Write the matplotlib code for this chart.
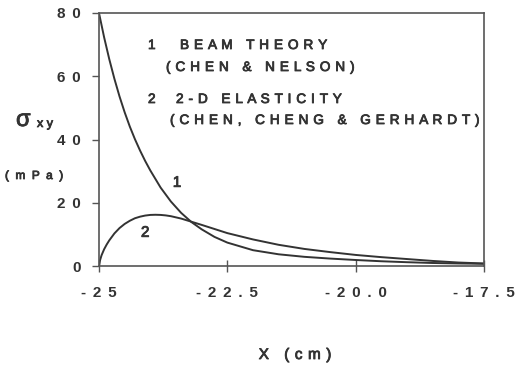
import matplotlib
matplotlib.use("Agg")
import matplotlib.pyplot as plt
import matplotlib.patheffects as pe

plt.rcParams['font.family'] = ['Liberation Sans', 'DejaVu Sans']

# curve 1: beam theory (Chen & Nelson)
x1 = [-25.0, -24.9, -24.8, -24.7, -24.6, -24.5, -24.4, -24.3, -24.2, -24.1,
      -24.0, -23.8, -23.6, -23.4, -23.2, -23.0, -22.75, -22.5, -22.0, -21.5,
      -21.0, -20.5, -20.0, -19.5, -19.0, -18.5, -18.0, -17.5]
y1 = [80.0, 72.3, 65.4, 59.2, 53.6, 48.6, 44.1, 40.1, 36.5, 33.2,
      30.2, 24.8, 20.4, 16.8, 13.9, 11.6, 9.2, 7.4, 5.0, 3.7,
      2.9, 2.35, 1.9, 1.5, 1.2, 0.95, 0.8, 0.7]

# curve 2: 2-D elasticity (Chen, Cheng & Gerhardt)
x2 = [-25.0, -24.98, -24.95, -24.9, -24.85, -24.8, -24.7, -24.6, -24.5, -24.4,
      -24.3, -24.2, -24.1, -24.0, -23.9, -23.8, -23.7, -23.6, -23.4, -23.2,
      -23.0, -22.5, -22.0, -21.5, -21.0, -20.5, -20.0, -19.5, -19.0, -18.5,
      -18.0, -17.5]
y2 = [0.0, 1.8, 3.4, 5.3, 6.8, 8.1, 10.3, 12.0, 13.3, 14.3,
      15.1, 15.6, 15.95, 16.15, 16.2, 16.15, 16.0, 15.75, 15.0, 14.0,
      13.0, 10.4, 8.4, 6.7, 5.4, 4.4, 3.5, 2.8, 2.2, 1.6,
      1.1, 0.8]

xticks = [-25, -22.5, -20.0, -17.5]
xtick_labels = ['-25', '-22.5', '-20.0', '-17.5']
yticks = [0, 20, 40, 60, 80]
ytick_labels = ['0', '20', '40', '60', '80']


def spaced(s, sep=' '):
    return sep.join(s)


ink = '#333333'
halo = [pe.withStroke(linewidth=0.6, foreground=ink)]
W, H = 523, 366
fig = plt.figure(figsize=(W / 100, H / 100), dpi=100)
ax = fig.add_axes([99 / W, 1 - 266 / H, 385 / W, 253 / H])

ax.plot(x1, y1, color=ink, lw=1.4)
ax.plot(x2, y2, color=ink, lw=1.4)

ax.set_xlim(-25, -17.5)
ax.set_ylim(0, 80)
tick_gap = ' \u200a\u200a'
ax.set_xticks(xticks)
ax.set_xticklabels([spaced(t, tick_gap) for t in xtick_labels])
ax.set_yticks(yticks)
ax.set_yticklabels([spaced(t, tick_gap) for t in ytick_labels])
ax.tick_params(axis='x', direction='inout', length=9, width=1, color='#555555',
               pad=10, labelsize=11, labelcolor=ink)
ax.tick_params(axis='y', direction='out', length=5, width=1, color='#555555',
               pad=8, labelsize=11, labelcolor=ink)
for lab in ax.get_xticklabels() + ax.get_yticklabels():
    lab.set_fontweight('bold')
for sp in ax.spines.values():
    sp.set_color('#555555')
    sp.set_linewidth(1.2)

ax.text(-23.48, 26.3, '1', fontsize=11, color=ink, ha='center', va='center',
        path_effects=halo)
ax.text(-24.10, 10.5, '2', fontsize=11, color=ink, ha='center', va='center',
        path_effects=halo)


def ftext(px, py, s, size, **kw):
    fig.text(px / W, 1 - py / H, s, fontsize=size, color=ink, va='center',
             path_effects=halo, **kw)


gap = ' \u200a'
ftext(148, 45, '1', 9.8)
ftext(180, 45, spaced('BEAM THEORY', gap), 9.8)
ftext(166, 67, spaced('(CHEN & NELSON)', gap), 9.8)
ftext(148, 99, '2', 9.8)
ftext(176, 99, spaced('2-D ELASTICITY', gap), 9.8)
ftext(170, 120, spaced('(CHEN, CHENG & GERHARDT)', gap), 9.8)

ftext(16, 120, 'σ', 17)
ftext(37, 124, spaced('xy'), 9)
ftext(5, 176, spaced('(mPa)', '  '), 8.5)
ftext(295, 355, spaced('X (cm)', gap), 11, ha='center')

fig.savefig('out.png', dpi=100)
